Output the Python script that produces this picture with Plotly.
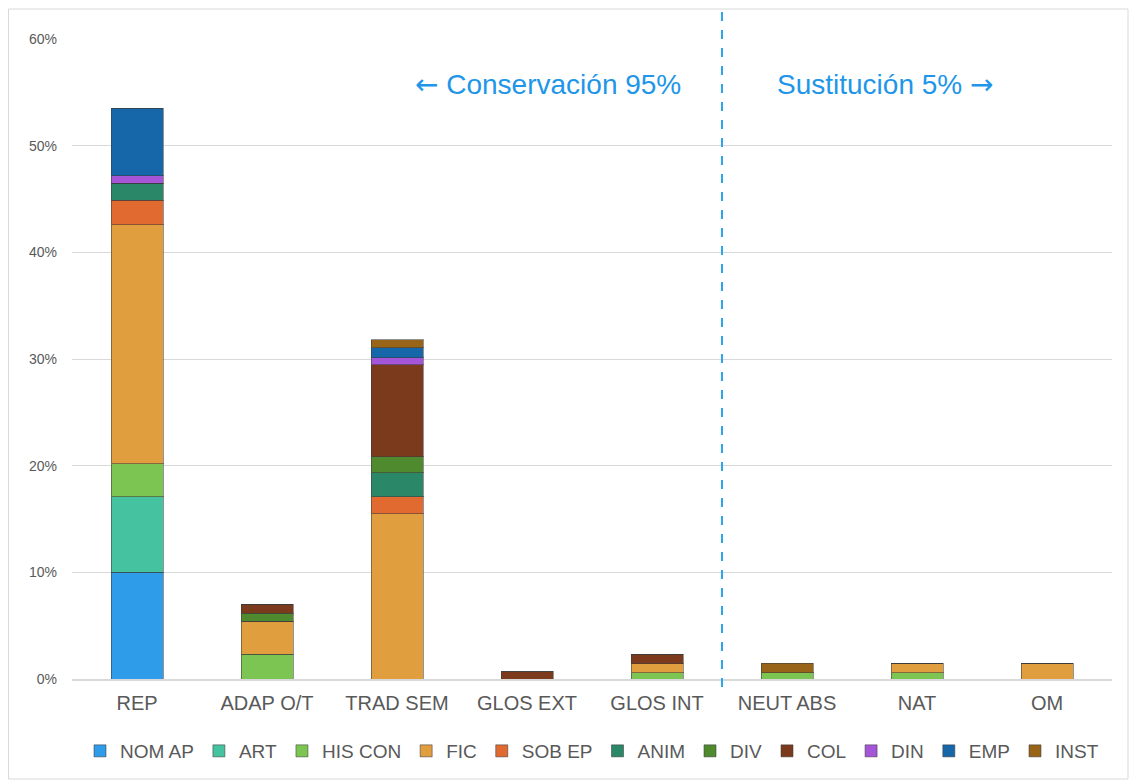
import plotly.graph_objects as go

categories = ["REP", "ADAP O/T", "TRAD SEM", "GLOS EXT", "GLOS INT", "NEUT ABS", "NAT", "OM"]

series_names = ["NOM AP", "ART", "HIS CON", "FIC", "SOB EP", "ANIM", "DIV", "COL", "DIN", "EMP", "INST"]

nom_ap  = [10.0, 0,   0,    0,   0,   0,   0,   0]
art     = [7.1,  0,   0,    0,   0,   0,   0,   0]
his_con = [3.1,  2.3, 0,    0,   0.6, 0.6, 0.6, 0]
fic     = [22.4, 3.1, 15.5, 0,   0.85, 0,  0.9, 1.5]
sob_ep  = [2.3,  0,   1.6,  0,   0,   0,   0,   0]
anim    = [1.6,  0,   2.25, 0,   0,   0,   0,   0]
div     = [0,    0.75, 1.5, 0,   0,   0,   0,   0]
col     = [0,    0.85, 8.6, 0.7, 0.85, 0,  0,   0]
din     = [0.7,  0,   0.66, 0,   0,   0,   0,   0]
emp     = [6.3,  0,   0.94, 0,   0,   0,   0,   0]
inst    = [0,    0,   0.75, 0,   0,   0.9, 0,   0]

colors = ["#2F9CEA", "#45C3A0", "#7CC552", "#E19E3E", "#E06A30", "#2A8868",
          "#4F8A2F", "#7B3A1C", "#A455D8", "#1666AA", "#986418"]

all_series = [nom_ap, art, his_con, fic, sob_ep, anim, div, col, din, emp, inst]

fig = go.Figure()
for name, vals, c in zip(series_names, all_series, colors):
    fig.add_trace(go.Bar(
        x=categories, y=[v / 100 for v in vals], name=name,
        marker=dict(color=c, line=dict(color="rgba(60,60,60,0.55)", width=1)),
    ))

L, R, T, B = 72, 19, 39, 103
W, H = 1131, 782
pw, ph = W - L - R, H - T - B

def px(x):
    return (x - L) / pw

def py(y):
    return (H - B - y) / ph

fig.update_layout(
    width=W, height=H,
    barmode="stack", bargap=0.6,
    margin=dict(l=L, r=R, t=T, b=B, autoexpand=False),
    plot_bgcolor="white", paper_bgcolor="white",
    font=dict(family="Liberation Sans, Arial, sans-serif", color="#595959"),
    yaxis=dict(range=[0, 0.6], dtick=0.1, tickformat=".0%", showgrid=True,
               gridcolor="#D9D9D9", gridwidth=1, zeroline=False,
               tickfont=dict(size=14, color="#595959"), ticks="", ticklen=0,
               ticklabelstandoff=14),
    xaxis=dict(tickfont=dict(size=20, color="#595959"), showline=True,
               linecolor="#D9D9D9", linewidth=2, ticks="", ticklabelstandoff=5),
    legend=dict(orientation="h", x=0.5, xanchor="center", y=py(751), yanchor="middle",
                font=dict(size=19, color="#595959"), traceorder="normal",
                itemwidth=30, tracegroupgap=0),
    showlegend=True,
)

fig.add_shape(type="line", xref="x", yref="paper", x0=4.5, x1=4.5,
              y0=py(687), y1=py(7),
              line=dict(color="#2EA6EE", width=2, dash="dash"))

fig.add_shape(type="rect", xref="paper", yref="paper",
              x0=px(8.5), x1=px(1128), y0=py(779), y1=py(9),
              line=dict(color="#D9D9D9", width=1), layer="below")

arrow_l = '<span style="font-family:DejaVu Sans">←</span>'
arrow_r = '<span style="font-family:DejaVu Sans">→</span>'

fig.add_annotation(xref="paper", yref="paper", x=px(548), y=py(84),
                   xanchor="center", yanchor="middle",
                   text=arrow_l + " Conservación 95%", showarrow=False,
                   font=dict(size=28, color="#2196E8"))
fig.add_annotation(xref="paper", yref="paper", x=px(885), y=py(84),
                   xanchor="center", yanchor="middle",
                   text="Sustitución 5% " + arrow_r, showarrow=False,
                   font=dict(size=28, color="#2196E8"))

fig.write_html("out.html")
